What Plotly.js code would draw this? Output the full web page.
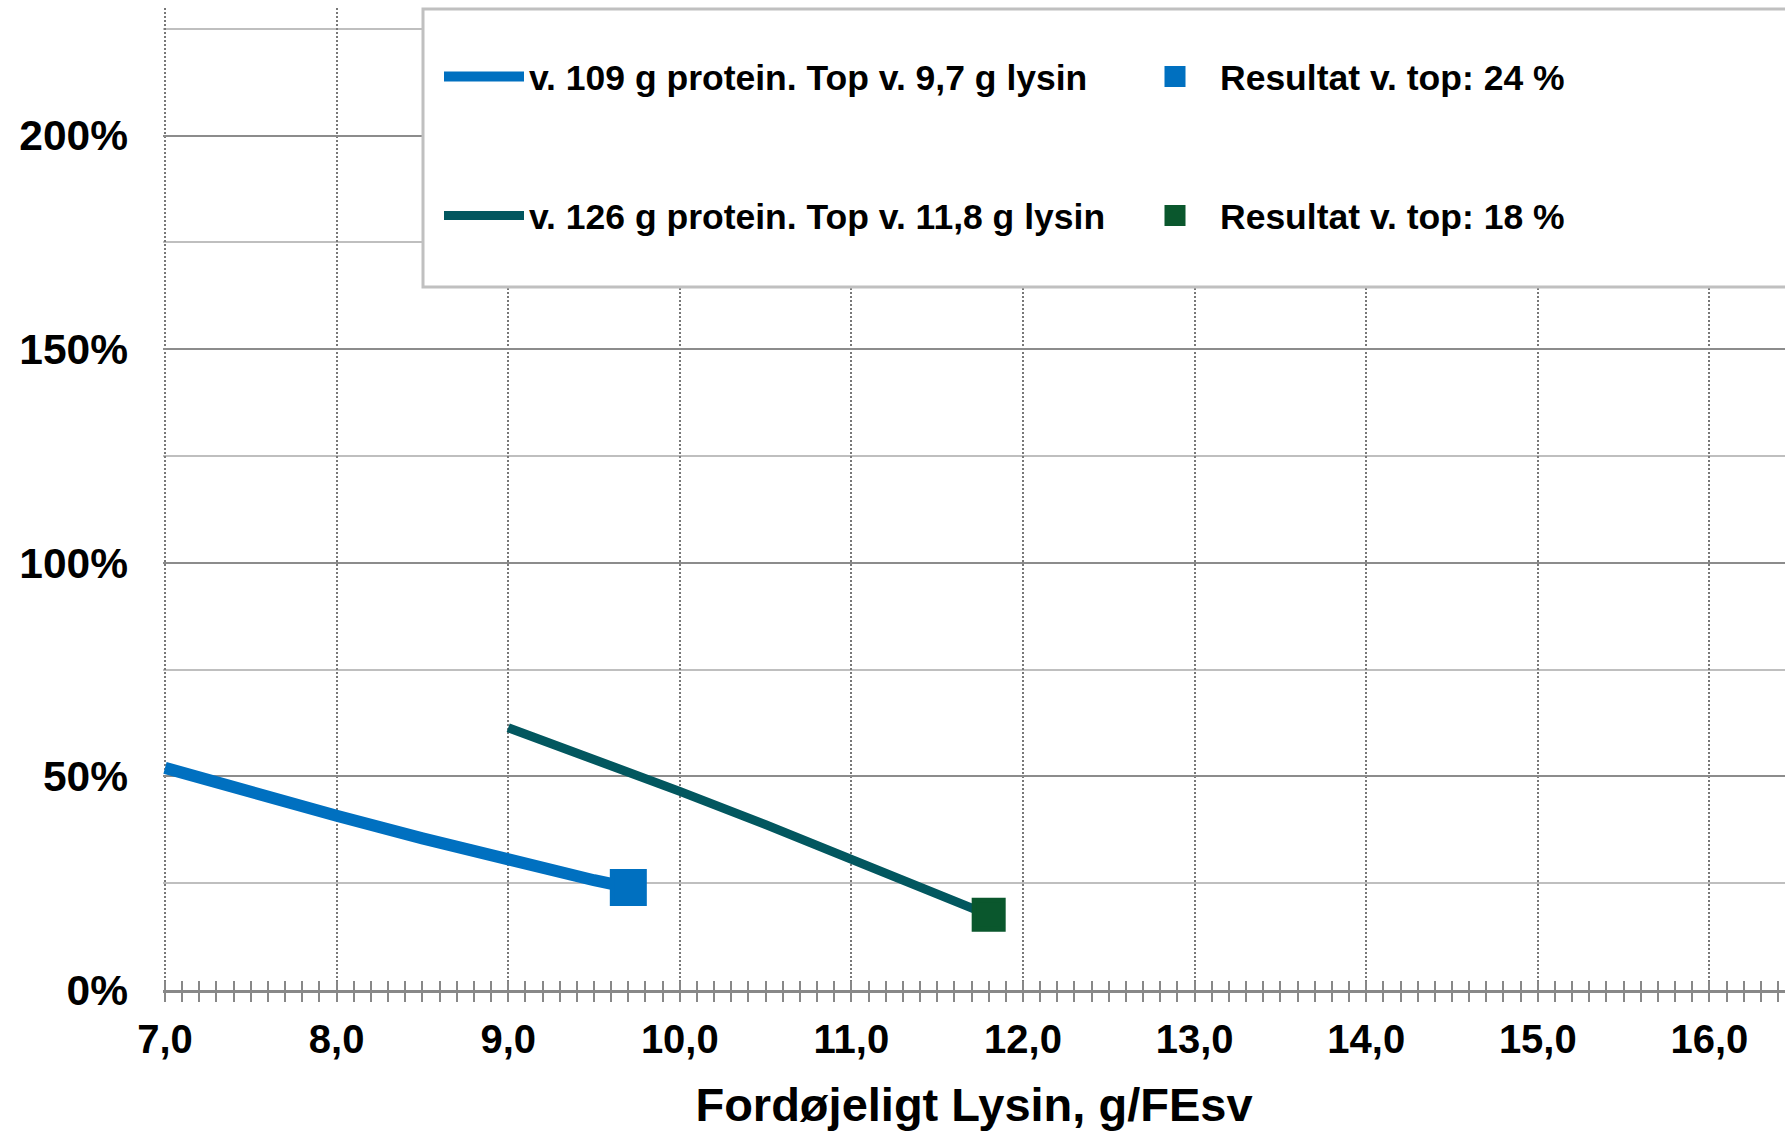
<!DOCTYPE html>
<html>
<head>
<meta charset="utf-8">
<script src="https://cdn.plot.ly/plotly-3.0.1.min.js"></script>
<style>html,body{margin:0;padding:0;background:#fff;}#chart{width:1785px;height:1132px;}</style>
</head>
<body>
<div id="chart"></div>
<script>
// Data
const lysin109 = [7.0, 7.5, 8.0, 8.5, 9.0, 9.5, 9.7];
const result109 = [0.52, 0.461, 0.408, 0.355, 0.304, 0.257, 0.24];
const lysin126 = [9.0, 9.5, 10.0, 10.5, 11.0, 11.5, 11.8];
const result126 = [0.614, 0.541, 0.465, 0.387, 0.308, 0.226, 0.176];
const topX109 = [9.7];
const topY109 = [0.24];
const topX126 = [11.8];
const topY126 = [0.176];
const seriesNames = [
  "v. 109 g protein. Top v. 9,7 g lysin",
  "Resultat v. top: 24 %",
  "v. 126 g protein. Top v. 11,8 g lysin",
  "Resultat v. top: 18 %"
];
const xTitle = "Fordøjeligt Lysin, g/FEsv";

const FAM = "Liberation Sans, Arial, Helvetica, sans-serif";
const bold = (size) => ({family: FAM, size: size, weight: 700, color: "#000"});
const XR = [6.9883, 16.4406];

const traces = [
  {x: lysin109, y: result109, name: seriesNames[0], type: "scatter", mode: "lines",
   line: {color: "#0070C0", width: 12}, legend: "legend", legendwidth: 596, hoverinfo: "skip"},
  {x: topX109, y: topY109, name: seriesNames[1], type: "scatter", mode: "markers",
   marker: {symbol: "square", size: 32, color: "#0070C0", line: {color: "#0070C0", width: 5}},
   legend: "legend", hoverinfo: "skip"},
  {x: lysin126, y: result126, name: seriesNames[2], type: "scatter", mode: "lines",
   line: {color: "#02575F", width: 9}, legend: "legend2", legendwidth: 596, hoverinfo: "skip"},
  {x: topX126, y: topY126, name: seriesNames[3], type: "scatter", mode: "markers",
   marker: {symbol: "square", size: 29, color: "#0A572D", line: {color: "#0A572D", width: 5}},
   legend: "legend2", hoverinfo: "skip"}
];

const legendBase = {
  orientation: "h", xanchor: "left", yanchor: "top", x: (439 - 163) / 1622,
  itemwidth: 80, bgcolor: "rgba(0,0,0,0)", borderwidth: 0, font: bold(35.5),
  itemclick: false, itemdoubleclick: false
};

const layout = {
  width: 1785, height: 1132,
  margin: {l: 163, r: 0, t: 8, b: 142, pad: 0},
  paper_bgcolor: "#fff", plot_bgcolor: "#fff",
  separators: ", ",
  showlegend: true,
  xaxis: {
    range: XR, tick0: 7, dtick: 1, tickformat: ".1f",
    ticks: "outside", ticklen: 9, tickwidth: 2, tickcolor: "#888",
    showgrid: true, gridcolor: "#787878", gridwidth: 2, griddash: "2px,2px",
    showline: true, linecolor: "#888", linewidth: 3, zeroline: false,
    tickfont: bold(40), ticklabelstandoff: 3,
    minor: {tick0: 7, dtick: 0.1, ticks: "outside", ticklen: 9, tickwidth: 2, tickcolor: "#888", showgrid: false},
    title: {text: xTitle, font: bold(47), standoff: 29},
    fixedrange: true
  },
  xaxis2: {
    overlaying: "x", anchor: "y", side: "bottom", range: XR, tick0: 7, dtick: 1,
    ticks: "inside", ticklen: 9, tickwidth: 2, tickcolor: "#888",
    showticklabels: false, showgrid: false, showline: false, zeroline: false,
    minor: {tick0: 7, dtick: 0.1, ticks: "inside", ticklen: 9, tickwidth: 2, tickcolor: "#888", showgrid: false},
    fixedrange: true
  },
  yaxis: {
    range: [0, 2.2987], dtick: 0.5, tickformat: ".0%",
    ticks: "", showgrid: true, gridcolor: "#8c8c8c", gridwidth: 2,
    zeroline: false, showline: false,
    tickfont: bold(42.5), ticklabelstandoff: 34,
    minor: {dtick: 0.25, showgrid: true, gridcolor: "#bfbfbf", gridwidth: 2, ticks: ""},
    fixedrange: true
  },
  legend: Object.assign({}, legendBase, {y: 0.9604}),
  legend2: Object.assign({}, legendBase, {y: 0.8188}),
  shapes: [{
    type: "rect", xref: "paper", yref: "paper", layer: "above",
    x0: (423 - 163) / 1622, x1: 1.05, y0: 0.7159, y1: 0.999,
    line: {color: "#c0c0c0", width: 3}, fillcolor: "#fff"
  }]
};

// Empty trace so the overlaying axis carrying the inward ticks is drawn
traces.push({x: [], y: [], xaxis: "x2", yaxis: "y", type: "scatter", mode: "lines", showlegend: false, hoverinfo: "skip"});

Plotly.newPlot("chart", traces, layout, {displayModeBar: false, staticPlot: true});
</script>
</body>
</html>
